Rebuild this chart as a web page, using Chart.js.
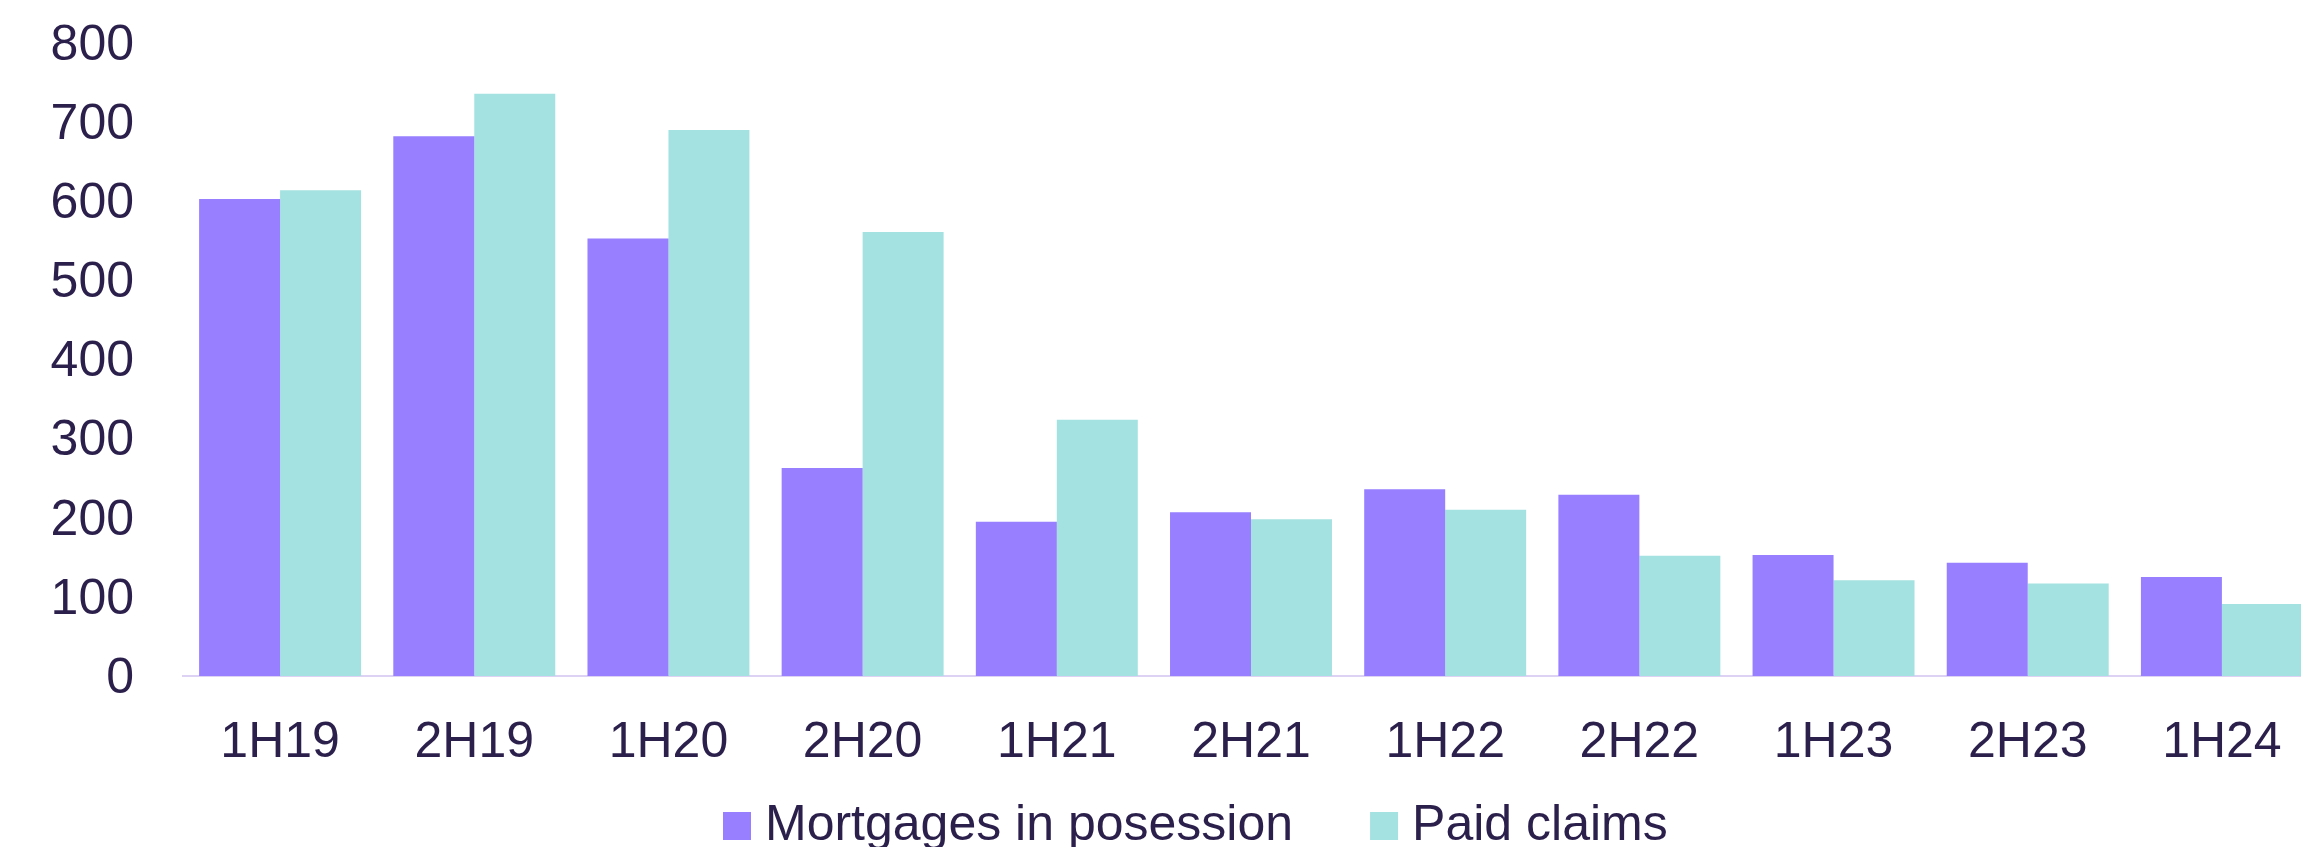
<!DOCTYPE html>
<html>
<head>
<meta charset="utf-8">
<script src="https://cdn.jsdelivr.net/npm/chart.js@4.4.1/dist/chart.umd.min.js"></script>
<style>
  html, body { margin: 0; padding: 0; background: #ffffff; overflow: hidden; }
  #wrap { position: relative; width: 2319px; height: 847px; }
</style>
</head>
<body>
<div id="wrap"><canvas id="c" width="2319" height="847"></canvas></div>
<script>
// ---- data ----
const categories = ["1H19", "2H19", "1H20", "2H20", "1H21", "2H21", "1H22", "2H22", "1H23", "2H23", "1H24"];
const mortgagesInPosession = [603, 682, 553, 263, 195, 207, 236, 229, 153, 143, 125];
const paidClaims = [614, 736, 690, 561, 324, 198, 210, 152, 121, 117, 91];
const seriesNames = ["Mortgages in posession", "Paid claims"];
const yTicks = [0, 100, 200, 300, 400, 500, 600, 700, 800];

// ---- style ----
const FONT = "'Liberation Sans', Arial, sans-serif";
const TEXT = "#2b1f4b";
const PURPLE = "#977fff";
const TEAL = "#a3e2e1";
const AXIS = "#ddd1f4";

const legendPlugin = {
  id: 'customLegend',
  afterDraw(chart, args, opts) {
    const ctx = chart.ctx;
    ctx.save();
    ctx.font = opts.fontSize + 'px ' + FONT;
    ctx.textBaseline = 'middle';
    ctx.textAlign = 'left';
    let x = opts.startX;
    chart.data.datasets.forEach(ds => {
      ctx.fillStyle = ds.backgroundColor;
      ctx.fillRect(x, opts.y - opts.box / 2, opts.box, opts.box);
      x += opts.box + opts.textGap;
      ctx.fillStyle = TEXT;
      ctx.fillText(ds.label, x, opts.y);
      x += ctx.measureText(ds.label).width + opts.itemGap;
    });
    ctx.restore();
  }
};

new Chart(document.getElementById('c'), {
  type: 'bar',
  data: {
    labels: categories,
    datasets: [
      { label: seriesNames[0], data: mortgagesInPosession, backgroundColor: PURPLE, borderWidth: 0 },
      { label: seriesNames[1], data: paidClaims, backgroundColor: TEAL, borderWidth: 0 }
    ]
  },
  options: {
    responsive: false,
    animation: false,
    devicePixelRatio: 1,
    layout: { padding: { top: 43, left: 0, right: 0, bottom: 37 } },
    datasets: { bar: { categoryPercentage: 0.834, barPercentage: 1.0 } },
    plugins: {
      legend: { display: false },
      tooltip: { enabled: false },
      customLegend: { startX: 723, y: 826, box: 28, textGap: 14, itemGap: 77, fontSize: 50 }
    },
    scales: {
      x: {
        grid: { display: true, drawOnChartArea: false, drawTicks: false },
        border: { display: true, color: AXIS, width: 2 },
        ticks: { color: TEXT, font: { family: FONT, size: 50 }, padding: 37, maxRotation: 0, autoSkip: false }
      },
      y: {
        min: 0,
        max: 800,
        afterFit: (scale) => { scale.width = 183; scale.paddingTop = 0; scale.paddingBottom = 0; },
        afterBuildTicks: (scale) => { scale.ticks = yTicks.map(v => ({ value: v })); },
        grid: { display: false, drawTicks: false },
        border: { display: false },
        ticks: { color: TEXT, font: { family: FONT, size: 50 }, padding: 49, labelOffset: 3 }
      }
    }
  },
  plugins: [legendPlugin]
});
</script>
</body>
</html>
